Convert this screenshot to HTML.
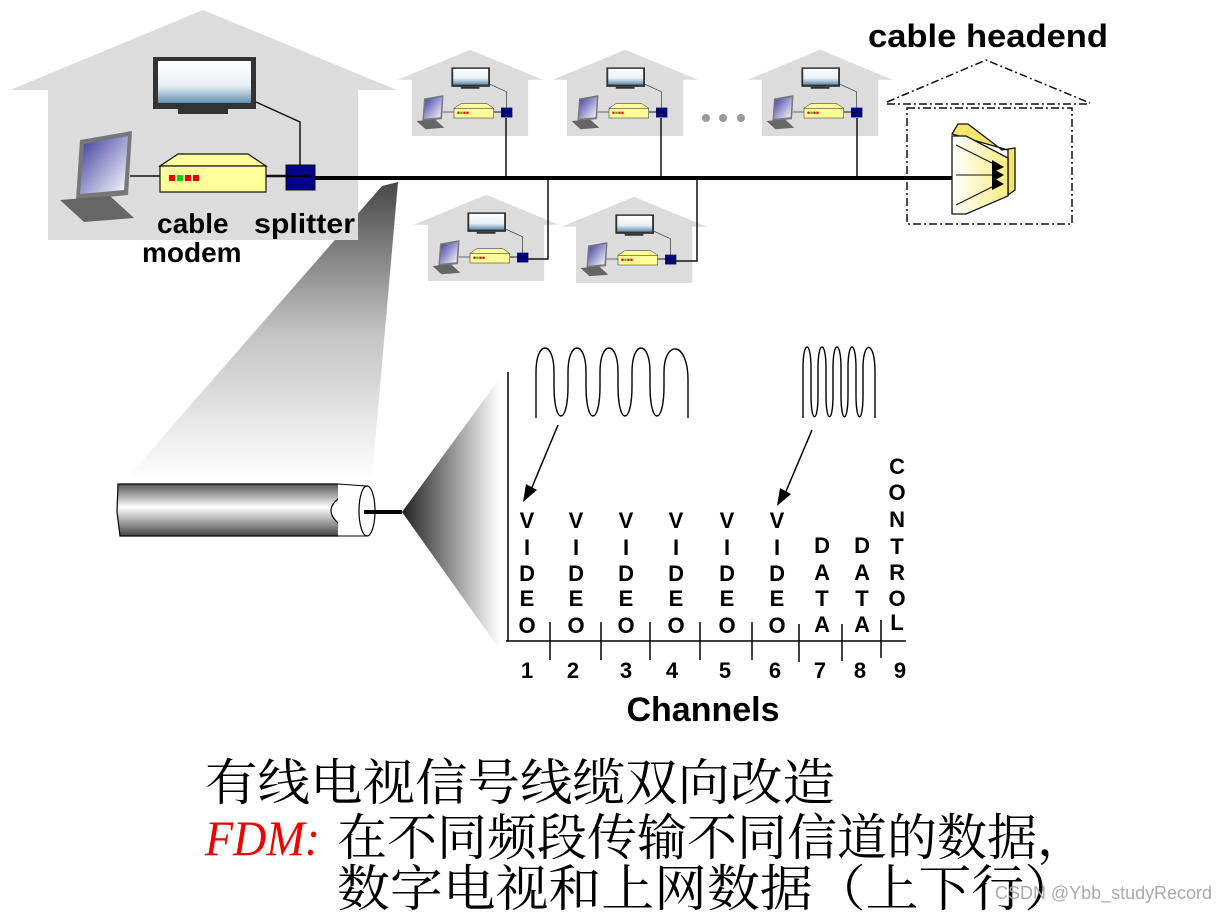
<!DOCTYPE html>
<html><head><meta charset="utf-8"><style>
html,body{margin:0;padding:0;background:#fff;}
svg{display:block;}
</style></head><body>
<svg width="1228" height="912" viewBox="0 0 1228 912" xmlns="http://www.w3.org/2000/svg">
<defs>
<linearGradient id="beam" x1="0" y1="0" x2="0" y2="1">
<stop offset="0" stop-color="#333"/><stop offset="0.5" stop-color="#bbb"/><stop offset="1" stop-color="#fff"/>
</linearGradient>
<linearGradient id="cone" x1="0" y1="0" x2="1" y2="0">
<stop offset="0" stop-color="#222"/><stop offset="1" stop-color="#fff"/>
</linearGradient>
<linearGradient id="cab" x1="0" y1="0" x2="0" y2="1">
<stop offset="0" stop-color="#555"/><stop offset="0.45" stop-color="#fff"/><stop offset="1" stop-color="#444"/>
</linearGradient>
<linearGradient id="scr" x1="0" y1="0" x2="0" y2="1">
<stop offset="0" stop-color="#fff"/><stop offset="0.6" stop-color="#e8f0f6"/><stop offset="1" stop-color="#5f8fb0"/>
</linearGradient>
<linearGradient id="lap" x1="0" y1="0" x2="1" y2="1">
<stop offset="0" stop-color="#3a3aa0"/><stop offset="1" stop-color="#fff"/>
</linearGradient>
<linearGradient id="hd" x1="0" y1="0" x2="1" y2="0">
<stop offset="0" stop-color="#fff"/><stop offset="1" stop-color="#f7ec80"/>
</linearGradient>
<g id="house">
<polygon points="10,90 203,10 397,90" fill="#dcdcdc"/>
<rect x="48" y="88" width="310" height="152" fill="#dcdcdc"/>
<rect x="153" y="57" width="103" height="52" fill="#333"/>
<rect x="158" y="61" width="93" height="42" fill="url(#scr)"/>
<rect x="178" y="109" width="50" height="5" fill="#333"/>
<polyline points="256,102 300,122 300,166" fill="none" stroke="#111" stroke-width="1.5"/>
<polygon points="80,140 132,131 128,195 76,200" fill="#777"/>
<polygon points="84,144 128,136 124,190 80,194" fill="url(#lap)"/>
<polygon points="60,200 110,196 134,218 84,222" fill="#666"/>
<line x1="130" y1="176" x2="160" y2="176" stroke="#111" stroke-width="1.5"/>
<polygon points="160,166 178,154 248,154 266,166" fill="#ffff99" stroke="#111" stroke-width="1.2"/>
<rect x="160" y="166" width="106" height="26" fill="#ffff99" stroke="#111" stroke-width="1.2"/>
<rect x="169" y="175" width="6" height="6" fill="#e00"/><rect x="177" y="175" width="6" height="6" fill="#1c1"/><rect x="185" y="175" width="6" height="6" fill="#e00"/><rect x="193" y="175" width="6" height="6" fill="#e00"/>
<line x1="266" y1="176" x2="286" y2="176" stroke="#111" stroke-width="2.5"/>
<rect x="286" y="165" width="29" height="25" fill="#00008b" stroke="#111"/>
<line x1="286" y1="176" x2="312" y2="176" stroke="#000" stroke-width="2"/>
</g>
</defs>

<polygon points="398,182 382,186 125,480 372,478" fill="url(#beam)" opacity="0.9"/>

<use href="#house"/>
<use href="#house" transform="translate(394,46) scale(0.375)"/>
<use href="#house" transform="translate(549,46) scale(0.375)"/>
<use href="#house" transform="translate(744,46) scale(0.375)"/>
<use href="#house" transform="translate(410,191) scale(0.375)"/>
<use href="#house" transform="translate(558,193) scale(0.375)"/>

<g stroke="#111" stroke-width="1.5" fill="none">
<line x1="506" y1="118" x2="506" y2="178"/>
<line x1="661" y1="118" x2="661" y2="178"/>
<line x1="857" y1="118" x2="857" y2="178"/>
<polyline points="528,259 548,259 548,178"/>
<polyline points="676,261 697,261 697,178"/>
</g>
<line x1="315" y1="178" x2="955" y2="178" stroke="#000" stroke-width="4"/>
<g fill="#999"><circle cx="706" cy="118" r="4"/><circle cx="723" cy="118" r="4"/><circle cx="741" cy="118" r="4"/></g>

<text x="157" y="233" font-family="Liberation Sans, sans-serif" font-weight="bold" font-size="28">cable</text>
<text x="254" y="233" font-family="Liberation Sans, sans-serif" font-weight="bold" font-size="28" textLength="101" lengthAdjust="spacingAndGlyphs">splitter</text>
<text x="142" y="262" font-family="Liberation Sans, sans-serif" font-weight="bold" font-size="28">modem</text>
<text x="868" y="47" font-family="Liberation Sans, sans-serif" font-weight="bold" font-size="32" textLength="240" lengthAdjust="spacingAndGlyphs">cable headend</text>

<g fill="none" stroke="#111" stroke-width="1.5" stroke-dasharray="8,3,2,3">
<polyline points="887,102 986,60 1090,103"/>
<line x1="887" y1="104" x2="1090" y2="104"/>
<rect x="907" y="108" width="165" height="116"/>
</g>
<polygon points="952,134 958,124 968,124 1002,150 1015,148 1015,190 1008,195 1008,150" fill="#f5e66a" stroke="#111" stroke-width="1.3"/>
<polygon points="952,136 966,136 1008,158 1008,196 966,214 952,214" fill="url(#hd)" stroke="#111" stroke-width="1.3"/>
<g stroke="#111" stroke-width="1"><line x1="956" y1="145" x2="996" y2="165"/><line x1="956" y1="175" x2="996" y2="175"/><line x1="956" y1="205" x2="996" y2="185"/></g>
<polygon points="992,160 1004,167 992,173" fill="#000"/><polygon points="992,168 1004,175 992,182" fill="#000"/><polygon points="992,177 1004,184 992,190" fill="#000"/>

<path d="M118,484 L338,484 Q345,490 337,500 Q325,510 337,522 Q345,530 338,536 L120,536 L117,512 Z" fill="url(#cab)" stroke="#000" stroke-width="1.2"/>
<path d="M338,484 L366,486 L366,536 L338,536" fill="#fff" stroke="#000" stroke-width="1"/>
<ellipse cx="367" cy="511" rx="8" ry="25" fill="#fff" stroke="#000" stroke-width="1.2"/>
<line x1="364" y1="512" x2="402" y2="512" stroke="#000" stroke-width="4"/>
<polygon points="402,512 500,378 500,650" fill="url(#cone)"/>

<g stroke="#000" stroke-width="1.5">
<line x1="508" y1="372" x2="508" y2="641"/>
<line x1="506" y1="641" x2="906" y2="641"/>
<line x1="550" y1="622" x2="550" y2="660"/><line x1="601" y1="622" x2="601" y2="660"/><line x1="650" y1="622" x2="650" y2="660"/><line x1="700" y1="622" x2="700" y2="660"/><line x1="752" y1="622" x2="752" y2="660"/><line x1="799" y1="624" x2="799" y2="662"/><line x1="842" y1="624" x2="842" y2="661"/><line x1="881" y1="620" x2="881" y2="658"/>
</g>
<path d="M536,418 V372 C536,340 554,340 554,372 V386 C554,426 568,426 568,386 V372 C568,340 586,340 586,372 V386 C586,426 600,426 600,386 V372 C600,340 618,340 618,372 V386 C618,426 632,426 632,386 V372 C632,340 650,340 650,372 V386 C650,426 664,426 664,386 V372 C664,340 688,340 688,380 V418" fill="none" stroke="#000" stroke-width="1.4"/>
<path d="M803,418 V368 C803,340 811,340 811,368 V395 C811,424 818,424 818,395 V368 C818,340 826,340 826,368 V395 C826,424 833,424 833,395 V368 C833,340 841,340 841,368 V395 C841,424 848,424 848,395 V368 C848,340 856,340 856,368 V395 C856,424 863,424 863,395 V368 C863,340 875,340 875,372 V418" fill="none" stroke="#000" stroke-width="1.4"/>
<line x1="558" y1="425" x2="530" y2="492" stroke="#000" stroke-width="1.5"/>
<polygon points="523,502 526,484 537,490" fill="#000"/>
<line x1="812" y1="430" x2="784" y2="496" stroke="#000" stroke-width="1.5"/>
<polygon points="777,506 780,488 791,494" fill="#000"/>

<g font-family="Liberation Sans, sans-serif" font-weight="bold" font-size="22" text-anchor="middle">
<g transform="translate(527,0)"><text y="528">V</text><text y="555">I</text><text y="581">D</text><text y="606">E</text><text y="633">O</text></g>
<g transform="translate(576,0)"><text y="528">V</text><text y="555">I</text><text y="581">D</text><text y="606">E</text><text y="633">O</text></g>
<g transform="translate(626,0)"><text y="528">V</text><text y="555">I</text><text y="581">D</text><text y="606">E</text><text y="633">O</text></g>
<g transform="translate(676,0)"><text y="528">V</text><text y="555">I</text><text y="581">D</text><text y="606">E</text><text y="633">O</text></g>
<g transform="translate(727,0)"><text y="528">V</text><text y="555">I</text><text y="581">D</text><text y="606">E</text><text y="633">O</text></g>
<g transform="translate(777,0)"><text y="528">V</text><text y="555">I</text><text y="581">D</text><text y="606">E</text><text y="633">O</text></g>
<g transform="translate(822,0)"><text y="553">D</text><text y="580">A</text><text y="606">T</text><text y="632">A</text></g>
<g transform="translate(862,0)"><text y="553">D</text><text y="580">A</text><text y="606">T</text><text y="632">A</text></g>
<g transform="translate(897,0)"><text y="474">C</text><text y="500">O</text><text y="527">N</text><text y="554">T</text><text y="580">R</text><text y="606">O</text><text y="630">L</text></g>
<text x="527" y="678">1</text><text x="573" y="678">2</text><text x="626" y="678">3</text><text x="672" y="678">4</text><text x="725" y="678">5</text><text x="775" y="678">6</text><text x="820" y="678">7</text><text x="860" y="678">8</text><text x="900" y="678">9</text>
<text x="703" y="721" font-size="34">Channels</text>
</g>

<g font-family="Liberation Serif, 'Noto Serif CJK SC', serif" font-size="50">
<text x="205" y="800" textLength="630" lengthAdjust="spacingAndGlyphs">有线电视信号线缆双向改造</text>
<text x="205" y="855" fill="#e00" font-style="italic" textLength="115" lengthAdjust="spacingAndGlyphs">FDM:</text>
<text x="337" y="855" textLength="750" lengthAdjust="spacingAndGlyphs">在不同频段传输不同信道的数据，</text>
<text x="337" y="906" textLength="740" lengthAdjust="spacingAndGlyphs">数字电视和上网数据（上下行）</text>
</g>
<text x="995" y="899" font-family="Liberation Sans, sans-serif" font-size="18" fill="#aaa" textLength="217" lengthAdjust="spacingAndGlyphs">CSDN @Ybb_studyRecord</text>
</svg>
</body></html>
